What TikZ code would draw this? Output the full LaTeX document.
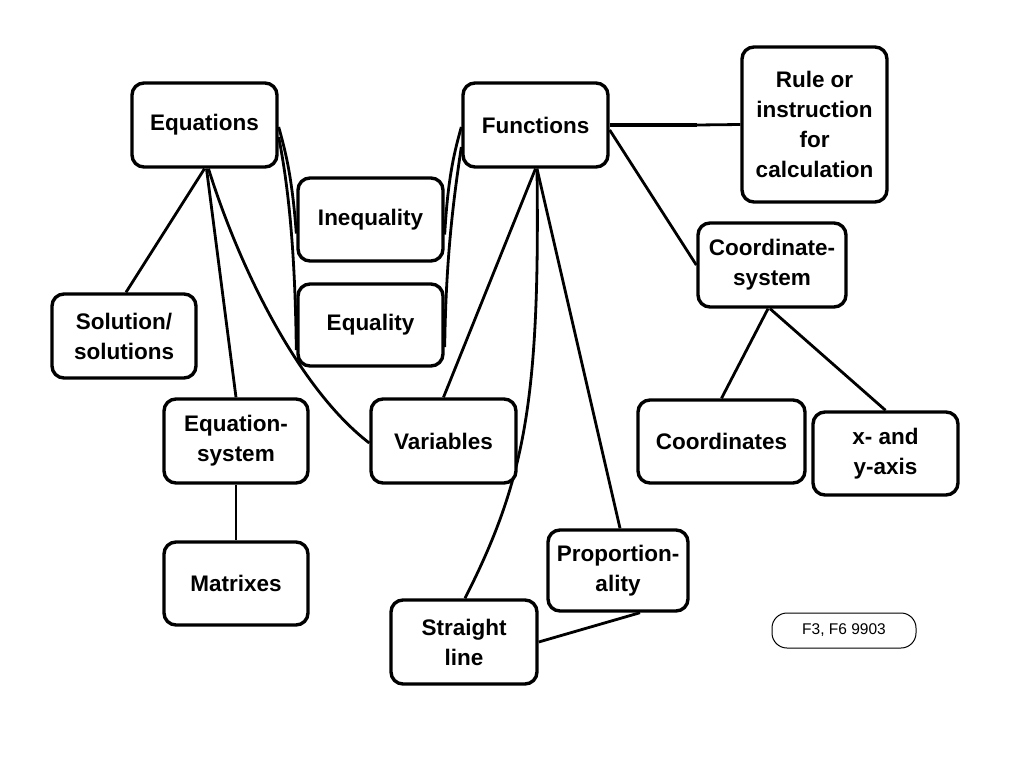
\documentclass[tikz,border=0pt]{standalone}
\usepackage{fontspec}
\setmainfont{Liberation Sans}
\usetikzlibrary{backgrounds}
\begin{document}
\begin{tikzpicture}[x=1pt,y=-1pt,
  box/.style={draw=black,line width=3.4pt,rounded corners=12pt,fill=white,
    font=\fontsize{22.5}{30}\selectfont\bfseries,align=center,inner sep=0pt,
    minimum width=#1},
  box/.default=145pt,
  conn/.style={line width=2.8pt,black},
  tag/.style={draw=black,line width=1pt,rounded corners=15pt,inner sep=0pt,
    minimum width=144pt,minimum height=35pt,font=\fontsize{15.5}{18}\selectfont}]
\useasboundingbox (0,0) rectangle (1024,768);

% nodes
\node[box,minimum height=84pt] (eq) at (204.5,125) {Equations};
\node[box,minimum height=84pt] (fn) at (535.5,125) {Functions};
\node[box,minimum height=83pt] (ineq) at (370.5,219.5) {Inequality};
\node[box,minimum height=82pt] (equal) at (370.5,325) {Equality};
\node[box,minimum height=155pt] (rule) at (814.5,124.5) {Rule or\\instruction\\for\\calculation};
\node[box=148pt,minimum height=84pt] (cs) at (772,265) {Coordinate-\\system};
\node[box=144pt,minimum height=84pt] (sol) at (124,336) {Solution/\\solutions};
\node[box=144pt,minimum height=84pt] (es) at (236,441) {Equation-\\system};
\node[box,minimum height=84pt] (var) at (443.5,441) {Variables};
\node[box=144pt,minimum height=83pt] (mat) at (236,583.5) {Matrixes};
\node[box=146pt,minimum height=84pt] (sl) at (464,642) {Straight\\line};
\node[box=140pt,minimum height=81pt] (prop) at (618,570.5) {Proportion-\\ality};
\node[box=167pt,minimum height=83pt] (coord) at (721.5,441.5) {Coordinates};
\node[box,minimum height=83pt] (xy) at (885.5,453.5) {x- and\\y-axis};
\node[tag] (f3) at (844,630.5) {F3, F6 9903};

% connectors
\begin{scope}[on background layer]
\fill[white] (0,0) rectangle (1024,768);
\draw[conn] (eq.south) -- ([xshift=2pt]sol.north);
\draw[conn] ([xshift=2pt]eq.south) -- (es.north);
\draw[conn] ([xshift=4pt]eq.south) .. controls (240,270) and (300,390) .. ([yshift=-2pt]var.west);
\draw[conn] ([yshift=-2pt]eq.east) .. controls (285,150) and (292,175) .. ([yshift=-14pt]ineq.west);
\draw[conn] ([yshift=-12pt]eq.east) .. controls (287,180) and (295,240) .. ([yshift=-25pt]equal.west);
\draw[conn] ([yshift=-2pt]fn.west) .. controls (455,150) and (448,175) .. ([yshift=-15pt]ineq.east);
\draw[conn] ([yshift=-22pt]fn.west) .. controls (455,190) and (446,250) .. ([yshift=-22pt]equal.east);
\draw[conn] (fn.south) -- (var.north);
\draw[conn] ([xshift=1.5pt]fn.south) .. controls (540,400) and (525,480) .. ([xshift=1pt]sl.north);
\draw[conn] ([xshift=1.5pt]fn.south) -- ([xshift=2pt]prop.north);
\coordinate (thick) at (697,125);
\draw[line width=4.5pt] (fn.east) -- (thick);
\draw[conn] (thick) -- (rule.west);
\draw[conn] ([yshift=-5pt]fn.east) -- (cs.west);
\draw[conn] ([xshift=-4pt]cs.south) -- (coord.north);
\draw[conn] ([xshift=-2pt]cs.south) -- (xy.north);
\draw[conn] (es.south) -- (mat.north);
\draw[conn] (sl.east) -- ([xshift=22pt]prop.south);
\end{scope}
\end{tikzpicture}
\end{document}
